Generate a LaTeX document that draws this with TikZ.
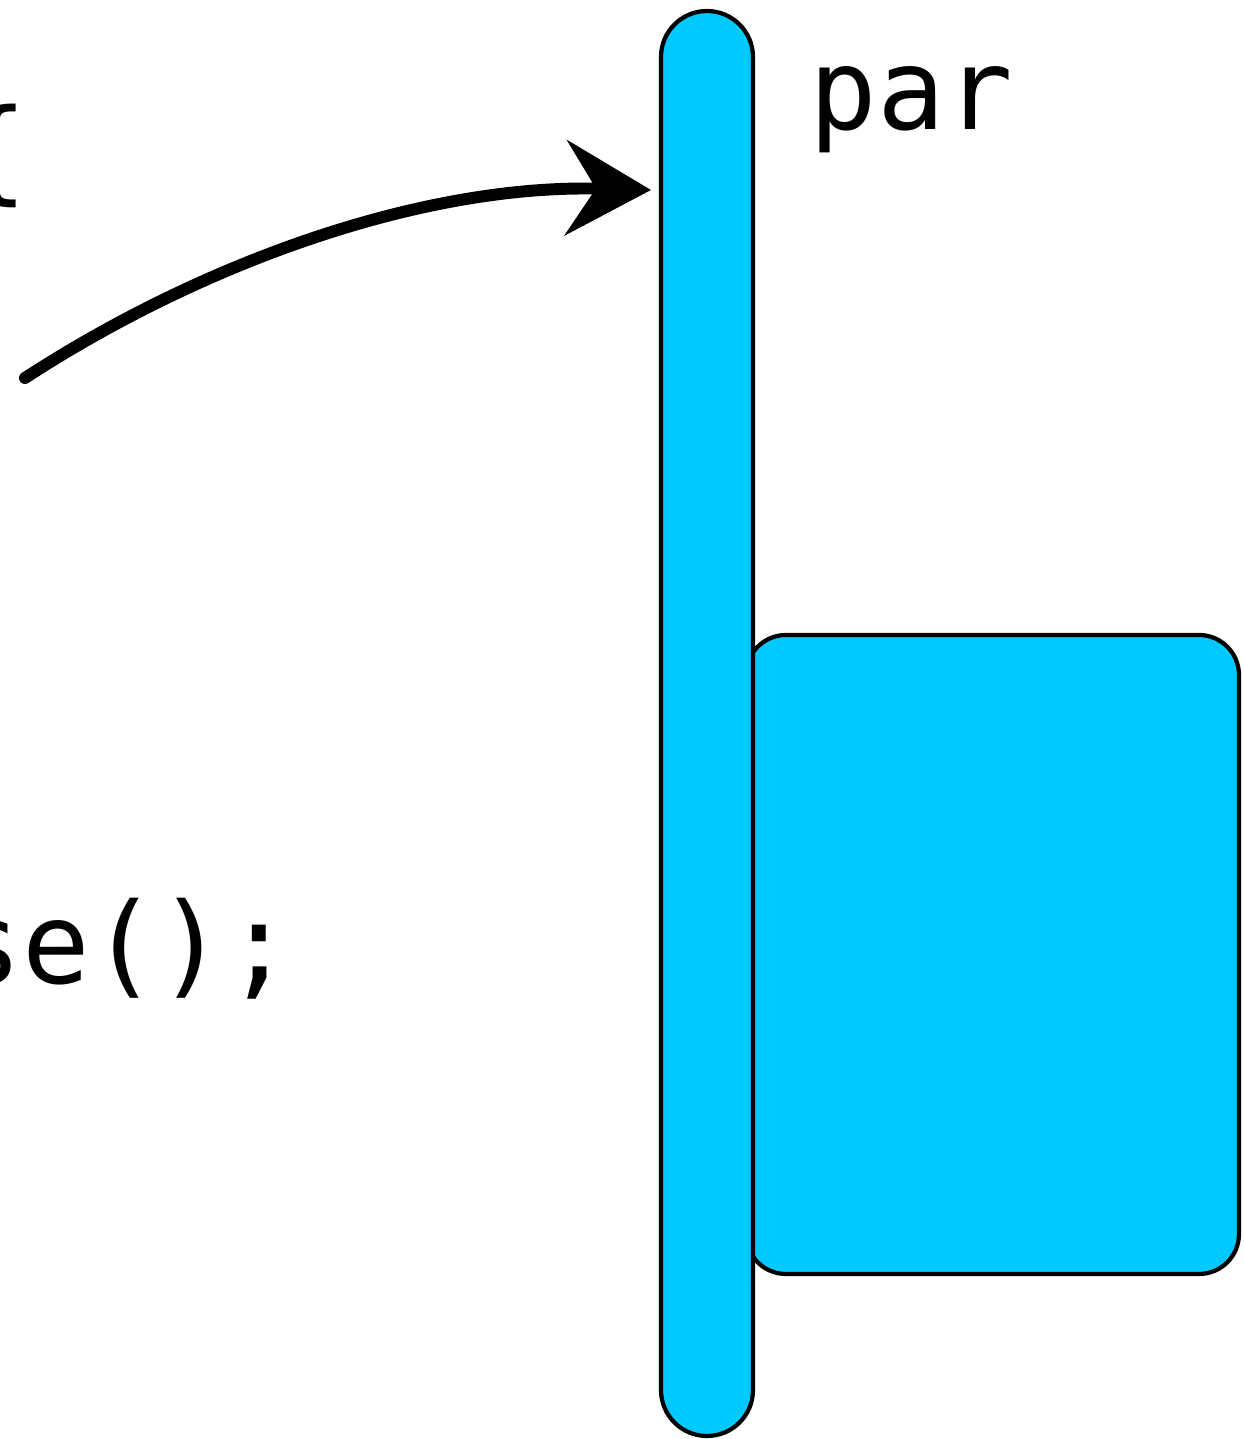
\documentclass[tikz,border=0pt]{standalone}
\usepackage{fontspec}
\setmonofont{DejaVu Sans Mono}
\usepackage{tikz}
\usetikzlibrary{positioning,arrows.meta}
\usepackage{xcolor}
\definecolor{barblue}{HTML}{00C9FF}

\begin{document}
\begin{tikzpicture}[
    blk/.style={draw, line width=1.2pt, fill=barblue, inner sep=0pt, outer sep=0pt, minimum width=#1},
    code/.style={font=\ttfamily\fontsize{32}{38}\selectfont, inner sep=0pt, anchor=base west},
    sketch/.style={line width=3.4pt, line cap=round, -{Stealth[length=0.85cm, width=0.95cm, inset=0.3cm]}},
]
\useasboundingbox (0,0) rectangle (12.44,14.39);
\clip (0,0) rectangle (12.44,14.39);

\node[code] (lineone) at (-0.40,12.49) {\{};
\node[code] (linetwo) at (-0.46,4.56) {se();};

\node[blk=4.93cm, minimum height=6.39cm, rounded corners=0.4cm] (frame) at (9.925,4.845) {};
\node[blk=0.92cm, minimum height=14.25cm, rounded corners=0.46cm] (bar) at (7.07,7.155) {};
\node[code] (parlbl) at (8.09,13.09) {par};

\coordinate (from) at (0.25,10.61);
\coordinate (tip) at (6.51,12.49);
\draw[sketch] (from) .. controls (2.0,11.75) and (4.2,12.55) .. (tip);

\end{tikzpicture}
\end{document}
